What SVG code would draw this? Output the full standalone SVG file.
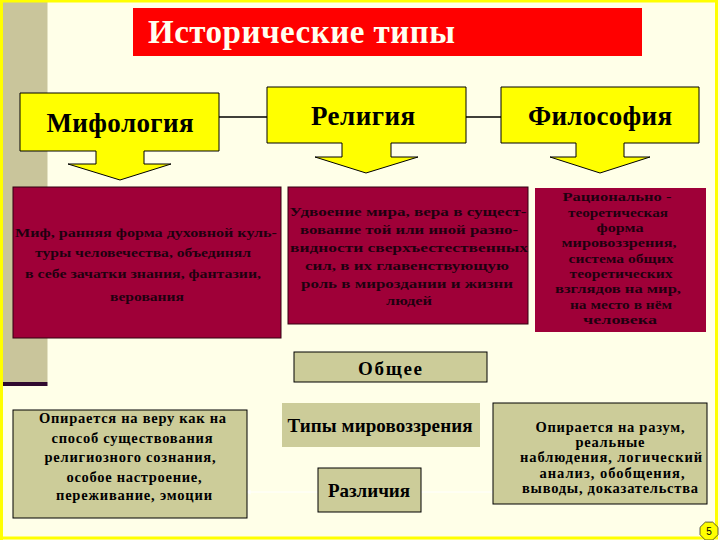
<svg xmlns="http://www.w3.org/2000/svg" width="720" height="540" viewBox="0 0 720 540">
<defs>
<style>
.t{font-family:"Liberation Serif","Times New Roman","DejaVu Serif",serif;font-weight:bold;text-anchor:middle}
.hdr{font-size:27px;fill:#000}
.ct{font-size:13.5px;fill:#1f0010}
.bt{font-size:14.5px;fill:#000}
.lb{font-size:19px;fill:#000}
.yel{fill:#FFFF00;stroke:#000;stroke-width:1}
.crim{fill:#9F0038}
.kh{fill:#CCCC99}
.ks{stroke:#000;stroke-width:1}
.conn{stroke:#000;stroke-width:1.5;fill:none}
.wconn{stroke:#FFFFFF;stroke-width:1;fill:none}
</style>
<marker id="wa" viewBox="0 0 10 10" refX="9" refY="5" markerWidth="5" markerHeight="5" orient="auto">
<path d="M0,0 L10,5 L0,10 Z" fill="#FFFFFF"/>
</marker>
</defs>
<rect x="0" y="0" width="720" height="540" fill="#FFFFE8"/>
<rect x="3" y="0" width="44.5" height="382" fill="#C9C59B"/>
<rect x="2" y="382" width="45.5" height="4" fill="#300A30"/>
<rect x="1.5" y="1" width="715" height="537" fill="none" stroke="#FFFF00" stroke-width="3"/>
<rect x="0" y="0" width="3" height="540" fill="#FFFF00"/>

<g font-family="Liberation Serif, Times New Roman, DejaVu Serif, serif">
<g id="title">
<rect x="133" y="8" width="509" height="48" fill="#FF0000"/>
<text class="t" x="301.5" y="43" font-size="33" fill="#FFFFF0" textLength="307">Исторические типы</text>
</g>

<g id="connectors">
<line class="conn" x1="219" y1="117" x2="267" y2="117"/>
<line class="conn" x1="466" y1="117" x2="501" y2="117"/>
<line class="wconn" x1="318" y1="492" x2="246" y2="492" marker-end="url(#wa)"/>
<line class="wconn" x1="421" y1="492" x2="496" y2="492" marker-end="url(#wa)"/>
</g>

<g id="mythology">
<path class="yel" d="M20,93 H219 V151 H144 V164 H171 L120,180 L68,164 H96 V151 H20 Z"/>
<text class="t hdr" x="120" y="132" textLength="147">Мифология</text>
</g>
<g id="religion">
<path class="yel" d="M267,87 H466 V143 H391 V157 H418 L366,173 L315,157 H342 V143 H267 Z"/>
<text class="t hdr" x="363" y="125" textLength="104">Религия</text>
</g>
<g id="philosophy">
<path class="yel" d="M501,87 H699 V143 H624 V157 H650 L600,173 L550,157 H576 V143 H501 Z"/>
<text class="t hdr" x="600" y="125" textLength="144">Философия</text>
</g>

<g id="myth-desc">
<rect class="crim" x="13" y="187" width="268" height="151" stroke="#330011" stroke-width="1"/>
<text class="t ct" x="146" y="237" textLength="262" lengthAdjust="spacingAndGlyphs">Миф, ранняя форма духовной куль-</text>
<text class="t ct" x="143" y="257" textLength="216" lengthAdjust="spacingAndGlyphs">туры человечества, объединял</text>
<text class="t ct" x="143" y="278" textLength="236" lengthAdjust="spacingAndGlyphs">в себе зачатки знания, фантазии,</text>
<text class="t ct" x="147" y="301" textLength="74" lengthAdjust="spacingAndGlyphs">верования</text>
</g>

<g id="religion-desc">
<rect class="crim" x="288" y="187" width="240" height="137" stroke="#330011" stroke-width="1"/>
<text class="t ct" x="408" y="216" textLength="237" lengthAdjust="spacingAndGlyphs">Удвоение мира, вера в сущест-</text>
<text class="t ct" x="409" y="234" textLength="218" lengthAdjust="spacingAndGlyphs">вование той или иной разно-</text>
<text class="t ct" x="409" y="252" textLength="238" lengthAdjust="spacingAndGlyphs">видности сверхъестественных</text>
<text class="t ct" x="407" y="270" textLength="204" lengthAdjust="spacingAndGlyphs">сил, в их главенствующую</text>
<text class="t ct" x="407" y="288" textLength="212" lengthAdjust="spacingAndGlyphs">роль в мироздании и жизни</text>
<text class="t ct" x="409" y="305" textLength="46" lengthAdjust="spacingAndGlyphs">людей</text>
</g>

<g id="philosophy-desc">
<rect class="crim" x="535" y="188" width="171" height="144"/>
<text class="t ct" x="617" y="201" textLength="109" lengthAdjust="spacingAndGlyphs">Рационально -</text>
<text class="t ct" x="618" y="216.5" textLength="100" lengthAdjust="spacingAndGlyphs">теоретическая</text>
<text class="t ct" x="620" y="232" textLength="47" lengthAdjust="spacingAndGlyphs">форма</text>
<text class="t ct" x="619" y="247" textLength="115" lengthAdjust="spacingAndGlyphs">мировоззрения,</text>
<text class="t ct" x="621" y="263" textLength="105" lengthAdjust="spacingAndGlyphs">система общих</text>
<text class="t ct" x="621" y="278" textLength="103" lengthAdjust="spacingAndGlyphs">теоретических</text>
<text class="t ct" x="618" y="293" textLength="126" lengthAdjust="spacingAndGlyphs">взглядов на мир,</text>
<text class="t ct" x="621" y="309" textLength="102" lengthAdjust="spacingAndGlyphs">на место в нём</text>
<text class="t ct" x="620" y="324" textLength="74" lengthAdjust="spacingAndGlyphs">человека</text>
</g>

<g id="common">
<rect class="kh ks" x="294" y="352" width="193" height="30"/>
<text class="t lb" x="390" y="375" textLength="64">Общее</text>
</g>
<g id="worldview-types">
<rect class="kh" x="282" y="403" width="198" height="44"/>
<text class="t lb" x="380" y="432" textLength="185">Типы мировоззрения</text>
</g>
<g id="differences">
<rect class="kh ks" x="318" y="468" width="103" height="44"/>
<text class="t lb" x="369" y="497" textLength="82">Различия</text>
</g>

<g id="faith">
<rect class="kh ks" x="13" y="410" width="234" height="108"/>
<text class="t bt" x="132.5" y="423" textLength="187">Опирается на веру как на</text>
<text class="t bt" x="132" y="443" textLength="161">способ существования</text>
<text class="t bt" x="130" y="462" textLength="171">религиозного сознания,</text>
<text class="t bt" x="134" y="482" textLength="135">особое настроение,</text>
<text class="t bt" x="134" y="500" textLength="156">переживание, эмоции</text>
</g>

<g id="reason">
<rect class="kh ks" x="493" y="403" width="214" height="101"/>
<text class="t bt" x="610" y="432" textLength="149">Опирается на разум,</text>
<text class="t bt" x="610" y="447" textLength="69">реальные</text>
<text class="t bt" x="611" y="462" textLength="182">наблюдения, логический</text>
<text class="t bt" x="612" y="478" textLength="145">анализ, обобщения,</text>
<text class="t bt" x="610" y="493" textLength="176">выводы, доказательства</text>
</g>
</g>

<g id="page-number">
<polygon points="705.3,522.1 712.7,522.1 718,527.3 718,534.7 712.7,540 705.3,540 700,534.7 700,527.3" fill="#FFFF00" stroke="#333333" stroke-width="0.8"/>
<text x="709" y="535" font-family="Liberation Sans, Arial, sans-serif" font-size="10" text-anchor="middle" fill="#000">5</text>
</g>
</svg>
